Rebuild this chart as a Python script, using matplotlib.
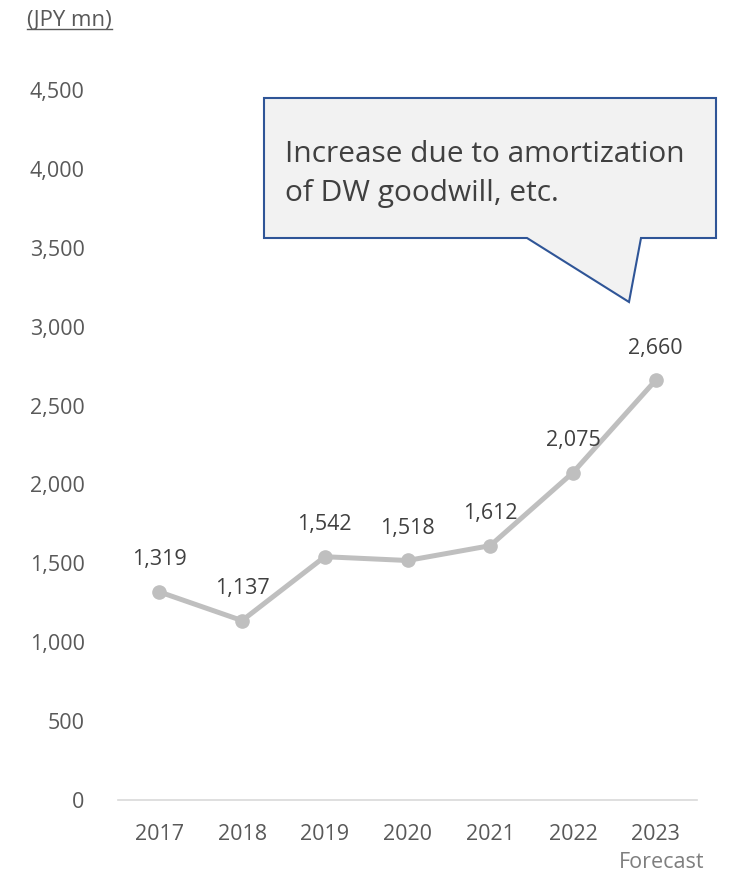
import matplotlib
matplotlib.use("Agg")
import matplotlib.pyplot as plt
from matplotlib.patches import Polygon
from matplotlib.lines import Line2D

plt.rcParams['font.family'] = ['Open Sans', 'DejaVu Sans']

years = ["2017", "2018", "2019", "2020", "2021", "2022", "2023"]
values = [1319, 1137, 1542, 1518, 1612, 2075, 2660]
value_labels = ["1,319", "1,137", "1,542", "1,518", "1,612", "2,075", "2,660"]
yticks = [0, 500, 1000, 1500, 2000, 2500, 3000, 3500, 4000, 4500]
ytick_labels = ["0", "500", "1,000", "1,500", "2,000", "2,500", "3,000", "3,500", "4,000", "4,500"]
unit_label = "(JPY mn)"
forecast_label = "Forecast"
callout_text = "Increase due to amortization\nof DW goodwill, etc."

W, H = 733, 873
fig = plt.figure(figsize=(W / 100, H / 100), dpi=100)
ax = fig.add_axes([118 / W, 1 - 800 / H, (697 - 118) / W, (800 - 90) / H])

x = list(range(len(years)))
ax.plot(x, values, color="#bfbfbf", lw=3.6, marker="o", ms=9.5,
        markerfacecolor="#bfbfbf", markeredgecolor="#bfbfbf", solid_capstyle="round", zorder=3)

for xi, v, lab in zip(x, values, value_labels):
    ax.annotate(lab, (xi, v), xytext=(0, 23), textcoords="offset points",
                ha="center", va="center", fontsize=15.5, color="#404040")

ax.set_xlim(-0.5, len(years) - 0.5)
ax.set_ylim(0, 4500)
ax.set_xticks(x)
ax.set_xticklabels(years)
ax.set_yticks(yticks)
ax.set_yticklabels(ytick_labels)
ax.tick_params(axis="both", length=0, labelsize=15.5, labelcolor="#595959")
ax.tick_params(axis="y", pad=24)
ax.tick_params(axis="x", pad=17)
for side in ["top", "right", "left"]:
    ax.spines[side].set_visible(False)
ax.spines["bottom"].set_color("#d9d9d9")
ax.spines["bottom"].set_linewidth(1.2)

# "Forecast" note under the last year
ax.annotate(forecast_label, (x[-1], 0), xytext=(4, -45), textcoords="offset points",
            ha="center", va="center", fontsize=15.5, color="#7f7f7f", annotation_clip=False)

# Unit label with underline
t = fig.text(27 / W, 1 - 20 / H, unit_label, fontsize=16, color="#595959", ha="left", va="center")
fig.canvas.draw()
bb = t.get_window_extent()
inv = fig.transFigure.inverted()
(x0, y0), (x1, y1) = inv.transform([(bb.x0, bb.y0), (bb.x1, bb.y0)])
fig.add_artist(Line2D([x0, x1], [y0 + 1.5 / H, y0 + 1.5 / H], transform=fig.transFigure,
                      color="#595959", lw=1.0))

# Speech-bubble callout
pts = [(264, 98), (716, 98), (716, 238), (641, 238), (629, 302), (527, 238), (264, 238)]
poly = Polygon([(px / W, 1 - py / H) for px, py in pts], closed=True, transform=fig.transFigure,
               facecolor="#f2f2f2", edgecolor="#2f5597", lw=1.5, zorder=5)
fig.add_artist(poly)
fig.text(285 / W, 1 - 174 / H, callout_text, fontsize=21.5, color="#404040",
         ha="left", va="center", linespacing=1.45, zorder=6)

fig.savefig("out.png", dpi=100)
